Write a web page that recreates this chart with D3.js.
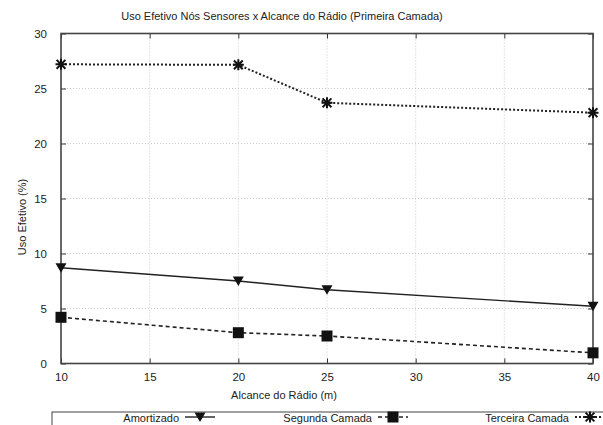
<!DOCTYPE html>
<html>
<head>
<meta charset="utf-8">
<script src="https://cdn.jsdelivr.net/npm/d3@7"></script>
<style>
  html, body { margin: 0; padding: 0; background: #fff; }
  svg { display: block; }
  text { font-family: "Liberation Sans", Arial, Helvetica, sans-serif; fill: #222; }
</style>
</head>
<body>
<svg id="chart" width="603" height="425"></svg>
<script>
// Radio range (m) on the x axis
const alcance = [10, 20, 25, 40];
// Effective use (%) per layer
const amortizado = [8.7, 7.5, 6.7, 5.2];
const segundaCamada = [4.2, 2.8, 2.5, 0.97];
const terceiraCamada = [27.2, 27.15, 23.7, 22.8];

const xTicks = [10, 15, 20, 25, 30, 35, 40];
const yTicks = [0, 5, 10, 15, 20, 25, 30];

const titulo = "Uso Efetivo Nós Sensores x Alcance do Rádio (Primeira Camada)";
const rotuloX = "Alcance do Rádio (m)";
const rotuloY = "Uso Efetivo (%)";
const nomesSeries = ["Amortizado", "Segunda Camada", "Terceira Camada"];

const svg = d3.select("#chart");
const m = { left: 61, right: 593, top: 33.5, bottom: 363.5 };

const x = d3.scaleLinear().domain([10, 40]).range([m.left, m.right]);
const y = d3.scaleLinear().domain([0, 30]).range([m.bottom, m.top]);

// dotted grid
const grid = svg.append("g");
grid.selectAll("line.gx").data(xTicks.slice(1, -1)).join("line")
  .attr("x1", d => x(d)).attr("x2", d => x(d))
  .attr("y1", m.top).attr("y2", m.bottom)
  .attr("stroke", "#bbb").attr("stroke-width", 0.8).attr("stroke-dasharray", "1,2");
grid.selectAll("line.gy").data(yTicks.slice(1, -1)).join("line")
  .attr("x1", m.left).attr("x2", m.right)
  .attr("y1", d => y(d)).attr("y2", d => y(d))
  .attr("stroke", "#bbb").attr("stroke-width", 0.8).attr("stroke-dasharray", "1,2");

// axes with inward ticks mirrored on all sides
const tickLen = 5;
const fmt = d3.format("d");
const axB = svg.append("g").attr("transform", `translate(0,${m.bottom})`)
  .call(d3.axisBottom(x).tickValues(xTicks).tickFormat(fmt).tickSizeInner(-tickLen).tickSizeOuter(0).tickPadding(9));
const axT = svg.append("g").attr("transform", `translate(0,${m.top})`)
  .call(d3.axisTop(x).tickValues(xTicks).tickFormat("").tickSizeInner(-tickLen).tickSizeOuter(0));
const axL = svg.append("g").attr("transform", `translate(${m.left},0)`)
  .call(d3.axisLeft(y).tickValues(yTicks).tickFormat(fmt).tickSizeInner(-tickLen).tickSizeOuter(0).tickPadding(14));
const axR = svg.append("g").attr("transform", `translate(${m.right},0)`)
  .call(d3.axisRight(y).tickValues(yTicks).tickFormat("").tickSizeInner(-tickLen).tickSizeOuter(0));
[axB, axT, axL, axR].forEach(a => {
  a.select(".domain").remove();
  a.selectAll(".tick line").attr("stroke", "#333").attr("stroke-width", 1);
  a.selectAll(".tick text").attr("font-size", 11.5).attr("fill", "#222")
    .style("font-family", "'Liberation Sans', Arial, sans-serif");
});

// plot border
svg.append("rect")
  .attr("x", m.left).attr("y", m.top)
  .attr("width", m.right - m.left).attr("height", m.bottom - m.top)
  .attr("fill", "none").attr("stroke", "#444").attr("stroke-width", 1.6);

// marker shapes
function marcador(g, tipo, cx, cy) {
  if (tipo === 0) {
    g.append("path")
      .attr("d", `M${cx - 5.5},${cy - 4.5}L${cx + 5.5},${cy - 4.5}L${cx},${cy + 5}Z`)
      .attr("fill", "#111");
  } else if (tipo === 1) {
    g.append("rect").attr("x", cx - 5.5).attr("y", cy - 5.5)
      .attr("width", 11).attr("height", 11).attr("fill", "#111");
  } else {
    const r = 5.5;
    g.append("path")
      .attr("d", `M${cx - r},${cy}L${cx + r},${cy}M${cx},${cy - r}L${cx},${cy + r}` +
                 `M${cx - r * 0.8},${cy - r * 0.8}L${cx + r * 0.8},${cy + r * 0.8}` +
                 `M${cx - r * 0.8},${cy + r * 0.8}L${cx + r * 0.8},${cy - r * 0.8}`)
      .attr("stroke", "#111").attr("stroke-width", 2).attr("fill", "none");
  }
}

const series = [amortizado, segundaCamada, terceiraCamada];
const tracos = [null, "4,3", "2,2"];
const larguras = [1.4, 1.6, 2];

const line = d3.line().x((d, i) => x(alcance[i])).y(d => y(d));
series.forEach((vals, k) => {
  const g = svg.append("g");
  g.append("path").datum(vals).attr("d", line)
    .attr("fill", "none").attr("stroke", "#222").attr("stroke-width", larguras[k])
    .attr("stroke-dasharray", tracos[k]);
  vals.forEach((v, i) => marcador(g, k, x(alcance[i]), y(v)));
});

// title and axis labels
svg.append("text").attr("x", 282).attr("y", 20).attr("text-anchor", "middle")
  .attr("font-size", 11).text(titulo);
svg.append("text").attr("x", 284).attr("y", 399).attr("text-anchor", "middle")
  .attr("font-size", 11).text(rotuloX);
svg.append("text").attr("transform", "translate(26,217) rotate(-90)")
  .attr("text-anchor", "middle").attr("font-size", 11).text(rotuloY);

// legend
const leg = svg.append("g");
leg.append("rect").attr("x", 52).attr("y", 412).attr("width", 560).attr("height", 20)
  .attr("fill", "#fff").attr("stroke", "#444").attr("stroke-width", 1);
const legTextEnd = [179, 372, 569];
legTextEnd.forEach((tx, k) => {
  leg.append("text").attr("x", tx).attr("y", 421.5).attr("text-anchor", "end")
    .attr("font-size", 11).text(nomesSeries[k]);
  const x0 = tx + 6, x1 = tx + 36, cy = 417;
  leg.append("line").attr("x1", x0).attr("x2", x1).attr("y1", cy).attr("y2", cy)
    .attr("stroke", "#222").attr("stroke-width", larguras[k]).attr("stroke-dasharray", tracos[k]);
  marcador(leg, k, (x0 + x1) / 2, cy);
});
</script>
</body>
</html>
